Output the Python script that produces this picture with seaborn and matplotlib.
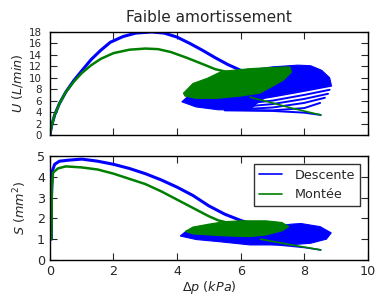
import matplotlib
matplotlib.use("Agg")
import matplotlib.pyplot as plt
import pandas as pd
import seaborn as sns

# --- values (p in kPa) ---
# upper panel: flow U (L/min)
u_desc_p = [0.0, 0.05, 0.15, 0.3, 0.5, 0.75, 1.0, 1.3, 1.6, 1.9, 2.3, 2.7, 3.2, 3.6, 4.0, 4.4, 4.8, 5.2, 5.6, 6.0, 6.3]
u_desc_u = [0.0, 1.5, 3.5, 5.5, 7.5, 9.5, 11.2, 13.2, 14.8, 16.2, 17.2, 17.8, 18.0, 17.8, 17.1, 16.0, 14.8, 13.5, 12.3, 11.3, 10.9]
u_mont_p = [0.0, 0.05, 0.15, 0.3, 0.5, 0.75, 1.0, 1.3, 1.6, 2.0, 2.5, 3.0, 3.4, 3.8, 4.3, 4.8, 5.2, 5.5, 5.8]
u_mont_u = [0.0, 1.5, 3.5, 5.5, 7.5, 9.3, 10.8, 12.2, 13.3, 14.3, 14.9, 15.1, 15.0, 14.5, 13.5, 12.4, 11.5, 11.1, 10.9]

u_desc_blob_p = [4.15, 4.5, 5.5, 6.2, 7.0, 7.8, 8.2, 8.55, 8.8, 8.85, 8.5, 7.5, 6.8, 6.5, 6.3, 5.3, 4.6]
u_desc_blob_u = [5.8, 7.5, 10.0, 11.3, 11.9, 12.2, 12.1, 11.3, 10.0, 8.8, 8.3, 7.4, 6.6, 5.5, 4.4, 4.4, 4.9]
u_desc_loops = [
    ([6.2, 7.0, 8.0, 8.85], [6.0, 6.7, 7.7, 8.6]),
    ([6.0, 7.0, 8.0, 8.8], [5.4, 6.0, 7.0, 7.9]),
    ([6.0, 7.0, 8.0, 8.75], [4.9, 5.4, 6.3, 7.2]),
    ([6.0, 7.0, 8.0, 8.65], [4.5, 4.8, 5.6, 6.5]),
    ([5.5, 7.0, 8.0, 8.5], [4.4, 4.3, 4.7, 5.6]),
    ([5.5, 7.0, 8.0, 8.52], [4.3, 4.2, 3.9, 3.5]),
]
u_mont_blob_p = [4.2, 4.5, 4.95, 5.4, 6.3, 7.0, 7.55, 7.6, 7.35, 6.9, 6.6, 6.0, 5.26, 4.6, 4.25]
u_mont_blob_u = [7.3, 9.0, 9.9, 11.1, 11.6, 11.8, 11.9, 11.0, 9.6, 8.2, 7.3, 6.8, 6.4, 6.4, 6.8]
u_mont_tail_p = [6.3, 7.0, 7.6, 8.52]
u_mont_tail_u = [6.6, 5.6, 4.7, 3.5]

# lower panel: section S (mm^2)
s_desc_p = [0.05, 0.05, 0.08, 0.15, 0.3, 0.6, 1.0, 1.5, 2.0, 2.5, 3.0, 3.5, 4.0, 4.5, 5.0, 5.5, 6.0, 6.3]
s_desc_s = [1.0, 3.0, 4.3, 4.6, 4.75, 4.8, 4.85, 4.75, 4.6, 4.4, 4.15, 3.85, 3.5, 3.1, 2.6, 2.2, 1.9, 1.75]
s_mont_p = [0.05, 0.06, 0.1, 0.25, 0.5, 1.0, 1.5, 2.0, 2.5, 3.0, 3.5, 4.0, 4.5, 5.0, 5.3, 5.7]
s_mont_s = [1.0, 3.5, 4.2, 4.4, 4.5, 4.45, 4.35, 4.15, 3.9, 3.65, 3.3, 2.9, 2.5, 2.1, 1.9, 1.75]

s_desc_blob_p = [4.1, 4.3, 5.0, 6.0, 7.0, 7.6, 7.9, 8.5, 8.85, 8.7, 8.2, 7.5, 6.3, 5.3, 4.6]
s_desc_blob_s = [1.15, 1.4, 1.5, 1.55, 1.6, 1.72, 1.75, 1.6, 1.3, 1.0, 0.8, 0.72, 0.72, 0.88, 0.98]
s_desc_tail_p = [7.0, 8.0, 8.52]
s_desc_tail_s = [0.75, 0.6, 0.48]
s_mont_blob_p = [4.26, 4.5, 5.0, 5.5, 6.0, 6.8, 7.3, 7.52, 7.3, 6.8, 6.3, 5.6, 5.0, 4.5]
s_mont_blob_s = [1.37, 1.58, 1.72, 1.84, 1.88, 1.88, 1.8, 1.6, 1.4, 1.2, 1.12, 1.15, 1.2, 1.25]
s_mont_tail_p = [6.62, 7.5, 8.52]
s_mont_tail_s = [1.0, 0.75, 0.48]

BLUE = "#0000ff"
GREEN = "#008000"


def trace(ax, p, y, color, z, label=None, lw=1.6):
    df = pd.DataFrame({"p": p, "y": y})
    sns.lineplot(data=df, x="p", y="y", sort=False, estimator=None,
                 color=color, linewidth=lw, label=label, ax=ax, zorder=z)


def blob(ax, p, y, color, z):
    ax.fill(p, y, color=color, lw=0.8, ec=color, zorder=z)


def style_axes(ax):
    ax.tick_params(direction="in", top=True, right=True, length=5, width=0.8)
    for sp in ax.spines.values():
        sp.set_linewidth(1.0)
        sp.set_color("black")
        sp.set_zorder(5)


def main() -> int:
    sns.set_style("ticks")
    plt.rcParams["font.family"] = ["DejaVu Sans"]
    plt.rcParams["font.size"] = 9.2
    plt.rcParams["mathtext.fontset"] = "dejavusans"

    fig = plt.figure(figsize=(3.78, 2.96), dpi=100)
    ax1 = fig.add_axes([0.132, 0.544, 0.841, 0.348])
    ax2 = fig.add_axes([0.132, 0.122, 0.841, 0.351])

    # upper panel (blue first, green drawn over it)
    trace(ax1, u_desc_p, u_desc_u, BLUE, 2.0, lw=2.2)
    blob(ax1, u_desc_blob_p, u_desc_blob_u, BLUE, 2.1)
    for lp, lu in u_desc_loops:
        trace(ax1, lp, lu, BLUE, 2.2, lw=1.4)
    trace(ax1, u_mont_p, u_mont_u, GREEN, 2.3, lw=1.8)
    blob(ax1, u_mont_blob_p, u_mont_blob_u, GREEN, 2.4)
    trace(ax1, u_mont_tail_p, u_mont_tail_u, GREEN, 2.5, lw=1.2)

    ax1.set_xlim(0, 10)
    ax1.set_ylim(0, 18)
    ax1.set_yticks(range(0, 19, 2))
    ax1.set_xticks(range(0, 11, 2))
    ax1.set_xticklabels([])
    ax1.set_xlabel("")
    ax1.set_ylabel(r"$U\ (L/min)$", labelpad=2.5)
    ax1.set_title("Faible amortissement", pad=7)
    style_axes(ax1)
    ax1.tick_params(axis="y", labelsize=7.4, pad=6)

    # lower panel
    trace(ax2, s_desc_p, s_desc_s, BLUE, 2.0, label="Descente", lw=2.2)
    blob(ax2, s_desc_blob_p, s_desc_blob_s, BLUE, 2.1)
    trace(ax2, s_desc_tail_p, s_desc_tail_s, BLUE, 2.2, lw=1.2)
    trace(ax2, s_mont_p, s_mont_s, GREEN, 2.3, label="Montée", lw=1.8)
    blob(ax2, s_mont_blob_p, s_mont_blob_s, GREEN, 2.4)
    trace(ax2, s_mont_tail_p, s_mont_tail_s, GREEN, 2.5, lw=1.2)

    ax2.set_xlim(0, 10)
    ax2.set_ylim(0, 5)
    ax2.set_xticks(range(0, 11, 2))
    ax2.set_yticks(range(0, 6))
    ax2.set_xlabel(r"$\Delta p\ (kPa)$", labelpad=1)
    ax2.set_ylabel(r"$S\ (mm^2)$", labelpad=6)
    style_axes(ax2)

    leg = ax2.legend(loc="upper right", frameon=True, fancybox=False,
                     handlelength=1.8, borderpad=0.4, labelspacing=0.5,
                     handletextpad=1.0, borderaxespad=0.6)
    leg.set_zorder(6)
    leg.get_frame().set_edgecolor("black")
    leg.get_frame().set_linewidth(1.0)
    for line in leg.get_lines():
        line.set_linewidth(1.2)

    fig.savefig("out.png", dpi=100)
    plt.close(fig)
    return 0


if __name__ == "__main__":
    raise SystemExit(main())
